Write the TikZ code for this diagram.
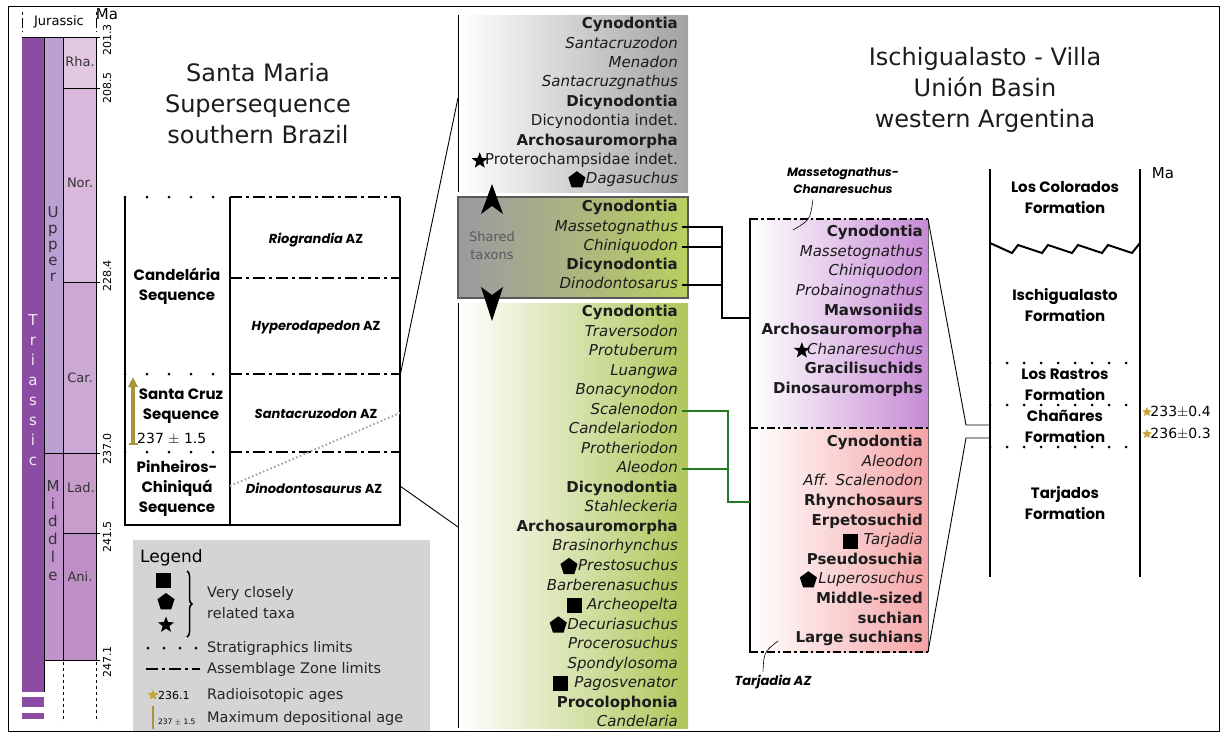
\documentclass[tikz,border=0pt]{standalone}
\usepackage{fontspec}
\setmainfont{DejaVu Sans}
\newfontfamily\geofont{Poppins}
\usetikzlibrary{positioning,shapes.geometric,arrows.meta,decorations.pathreplacing}

\definecolor{triascol}{HTML}{8D4CA3}
\definecolor{uppercol}{HTML}{BBA0D3}
\definecolor{middlecol}{HTML}{C193CC}
\definecolor{rhacol}{HTML}{E3C8E2}
\definecolor{norcol}{HTML}{D8B8DB}
\definecolor{carcol}{HTML}{CCA9D5}
\definecolor{ladcol}{HTML}{C89CCB}
\definecolor{anicol}{HTML}{BE90C5}
\definecolor{topgray}{HTML}{A2A2A5}
\definecolor{sharegray}{HTML}{9B9AA0}
\definecolor{sharegreen}{HTML}{B9CF60}
\definecolor{lowgreen}{HTML}{AEC65A}
\definecolor{purplefill}{HTML}{C68AD5}
\definecolor{redfill}{HTML}{F4A3A5}
\definecolor{legendgray}{HTML}{D4D4D4}
\definecolor{goldcol}{HTML}{A8953A}
\definecolor{stargold}{HTML}{C8A531}
\definecolor{linkgreen}{HTML}{237A23}
\definecolor{inkcol}{HTML}{1C1C1C}

\newcommand\taxfont{\fontsize{15}{18}\selectfont}
\newcommand\geobold{\geofont\bfseries}

\begin{document}
\begin{tikzpicture}[x=1pt,y=-1pt,
    taxon/.style={anchor=east, inner sep=0pt, text height=10.5pt, text depth=3pt, font=\taxfont, text=inkcol},
    azline/.style={line width=2.6pt, dash pattern=on 12pt off 4pt on 3pt off 4pt},
    stratline/.style={line width=3pt, line cap=round, dash pattern=on 0pt off #1},
    stratline/.default=21pt,
    boxline/.style={line width=2.6pt},
    agetick/.style={line width=0.9pt},
    agelabel/.style={rotate=90, font=\fontsize{11}{12}\selectfont, inner sep=0pt},
    stagelabel/.style={font=\fontsize{13}{15}\selectfont, text=black!80},
    letter/.style={font=\fontsize{15}{15}\selectfont, text height=10pt, text depth=3pt, inner sep=0pt},
    seqlabel/.style={font=\geobold\fontsize{15}{20}\selectfont, align=center},
    azlabel/.style={font=\geobold\fontsize{13}{15}\selectfont},
    formlabel/.style={font=\geobold\fontsize{15}{21}\selectfont, align=center},
    pentmark/.style={regular polygon, regular polygon sides=5, fill=black, minimum size=18pt, inner sep=0pt},
    starmark/.style={star, star points=5, star point ratio=2.4, fill=black, minimum size=17pt, inner sep=0pt},
    sqmark/.style={rectangle, fill=black, minimum size=15pt, inner sep=0pt},
    taxlink/.style={line width=2pt, black},
    greenlink/.style={line width=2pt, linkgreen},
    basintitle/.style={font=\fontsize{24}{31}\selectfont, align=center, text=inkcol},
    legendtext/.style={anchor=west, font=\fontsize{14.5}{17}\selectfont, text=black!85, inner sep=0pt}
]
\useasboundingbox (0,0) rectangle (1226,736);

% frame
\draw[line width=0.8pt] (8,6) rectangle (1219,731);

% ---- time scale ----
\fill[triascol] (22,37) rectangle (44,692);
\fill[triascol] (22,697) rectangle (44,707);
\fill[triascol] (22,713) rectangle (44,719);
\fill[uppercol] (44,37) rectangle (63,453);
\fill[middlecol] (44,453) rectangle (63,660);
\fill[rhacol] (63,37) rectangle (96,88);
\fill[norcol] (63,88) rectangle (96,282);
\fill[carcol] (63,282) rectangle (96,453);
\fill[ladcol] (63,453) rectangle (96,533);
\fill[anicol] (63,533) rectangle (96,660);
\draw[agetick] (44,37) -- (44,692) (63,37) -- (63,660) (96,37) -- (96,660);
\draw[agetick] (22,37) -- (100,37);
\draw[agetick] (63,88) -- (100,88);
\draw[agetick] (63,282) -- (100,282);
\draw[agetick] (44,453) -- (100,453);
\draw[agetick] (63,533) -- (100,533);
\draw[agetick] (44,660) -- (100,660);
\draw[agetick, dashed] (63,662) -- (63,722) (96,662) -- (96,722);
\draw[agetick, dash pattern=on 3pt off 3pt on 10pt off 3pt] (22,12) -- (22,32) (96,12) -- (96,32);

\node[font=\fontsize{13}{15}\selectfont] (jura) at (59,22) {Jurassic};
\node[font=\fontsize{15}{17}\selectfont] (maleft) at (107,14) {Ma};
\node[agelabel] at (107,40) {201.3};
\node[agelabel] at (107,88) {208.5};
\node[agelabel] at (107,276) {228.4};
\node[agelabel] at (107,449) {237.0};
\node[agelabel] at (107,537) {241.5};
\node[agelabel] at (107,662) {247.1};

\node[stagelabel] at (80,62) {Rha.};
\node[stagelabel] at (80,183) {Nor.};
\node[stagelabel] at (80,378) {Car.};
\node[stagelabel] at (81,488) {Lad.};
\node[stagelabel] at (80,577) {Ani.};

\foreach \l [count=\i] in {T,r,i,a,s,s,i,c}
  \node[letter, text=white!88!triascol] at (33,{302+20*\i}) {\l};
\foreach \l [count=\i] in {U,p,p,e,r}
  \node[letter, text=black!80] at (53,{198+16*\i}) {\l};
\foreach \l [count=\i] in {M,i,d,d,l,e}
  \node[letter, text=black!80] at (53,{470+17.8*\i}) {\l};

% ---- Santa Maria ----
\node[basintitle] (smtitle) at (258,104) {Santa Maria\\Supersequence\\southern Brazil};

\draw[boxline] (125,197) -- (125,525) -- (400,525) -- (400,197);
\draw[boxline] (230,197) -- (230,525);
\draw[stratline=22pt] (125,197) -- (226,197);
\draw[stratline=22pt] (125,374) -- (226,374);
\draw[stratline=22pt] (125,452) -- (226,452);
\draw[azline] (230,197) -- (400,197);
\draw[azline] (230,278) -- (400,278);
\draw[azline] (230,374) -- (400,374);
\draw[azline] (230,452) -- (400,452);

\node[seqlabel] (candseq) at (177,286) {Candelária\\Sequence};
\node[seqlabel] (scseq) at (181,406) {Santa Cruz\\Sequence};
\node[seqlabel] (pcseq) at (177,488) {Pinheiros-\\Chiniquá\\Sequence};
\node[anchor=west, font=\fontsize{14}{16}\selectfont, inner sep=0pt] (scage) at (137,439) {237 $\pm$ 1.5};
\draw[goldcol, line width=3.5pt, -{Triangle[width=9pt,length=10pt]}] (133,444) -- (133,377);
\draw[goldcol, line width=2pt] (128.5,444) -- (137.5,444);

\node[azlabel] (riog) at (316,240) {\itshape Riograndia\upshape\ AZ};
\node[azlabel] (hyper) at (316,327) {\itshape Hyperodapedon\upshape\ AZ};
\node[azlabel] (santaz) at (316,414) {\itshape Santacruzodon\upshape\ AZ};
\node[azlabel] (dinoaz) at (314,488) {\itshape Dinodontosaurus\upshape\ AZ};

\draw[gray!75, line width=2pt, dash pattern=on 1.5pt off 2.5pt] (230,486) -- (400,413);

% ---- legend ----
\fill[legendgray] (133,540) rectangle (430,731);
\node[anchor=west, font=\fontsize{17}{19}\selectfont, inner sep=0pt] (legtitle) at (140,558) {Legend};
\node[sqmark] (legsq) at (163,580) {};
\node[pentmark] (legpent) at (166,602) {};
\node[starmark] (legstar) at (166,625) {};
\draw[decorate, decoration={brace, amplitude=5pt}, line width=1.5pt] (187,571) -- (187,637);
\node[legendtext] at (207,593) {Very closely};
\node[legendtext] at (207,613) {related taxa};
\draw[stratline=16pt] (148,648) -- (200,648);
\node[legendtext] at (207,648) {Stratigraphics limits};
\draw[azline] (146,669) -- (200,669);
\node[legendtext] at (207,669) {Assemblage Zone limits};
\node[star, star points=5, star point ratio=2.2, fill=stargold, minimum size=11pt, inner sep=0pt] (legage) at (153,695) {};
\node[anchor=west, font=\fontsize{11}{13}\selectfont, inner sep=0pt] at (158,695) {236.1};
\node[legendtext] at (207,695) {Radioisotopic ages};
\draw[goldcol, line width=2pt] (153,706) -- (153,729);
\node[anchor=west, font=\fontsize{7.5}{9}\selectfont, inner sep=0pt] at (158,722) {237 $\pm$ 1.5};
\node[legendtext] at (207,718) {Maximum depositional age};

% ---- middle column ----
\shade[left color=white, right color=topgray] (459,15) rectangle (688,192);
\draw[line width=1pt] (458,15) -- (458,192);
\shade[left color=sharegray, right color=sharegreen] (458,197) rectangle (688,298);
\draw[line width=1.2pt, black!65] (458,197) rectangle (688,298);
\shade[left color=white, right color=lowgreen] (459,303) rectangle (688,728);
\draw[line width=1pt] (458,303) -- (458,728);

\fill (492,184) -- (503,214) -- (492,206) -- (481,214) -- cycle;
\fill (492,321) -- (503,287) -- (492,295) -- (481,287) -- cycle;
\node[font=\fontsize{13}{18}\selectfont, text=black!65, align=center] (shared) at (492,246) {Shared\\taxons};

\foreach \t [count=\i] in {\textbf{Cynodontia}, \textit{Santacruzodon}, \textit{Menadon},
    \textit{Santacruzgnathus}, \textbf{Dicynodontia}, Dicynodontia indet.,
    \textbf{Archosauromorpha}, Proterochampsidae indet., \textit{Dagasuchus}}
  \node[taxon] (t\i) at (678,{25+19.4*(\i-1)}) {\t};
\node[starmark, left=0pt of t8] {};
\node[pentmark, left=1pt of t9] {};

\foreach \t [count=\i] in {\textbf{Cynodontia}, \textit{Massetognathus}, \textit{Chiniquodon},
    \textbf{Dicynodontia}, \textit{Dinodontosarus}}
  \node[taxon] (s\i) at (678,{208+19.3*(\i-1)}) {\t};

\foreach \t [count=\i] in {\textbf{Cynodontia}, \textit{Traversodon}, \textit{Protuberum},
    \textit{Luangwa}, \textit{Bonacynodon}, \textit{Scalenodon}, \textit{Candelariodon},
    \textit{Protheriodon}, \textit{Aleodon}, \textbf{Dicynodontia}, \textit{Stahleckeria},
    \textbf{Archosauromorpha}, \textit{Brasinorhynchus}, \textit{Prestosuchus},
    \textit{Barberenasuchus}, \textit{Archeopelta}, \textit{Decuriasuchus},
    \textit{Procerosuchus}, \textit{Spondylosoma}, \textit{Pagosvenator},
    \textbf{Procolophonia}, \textit{Candelaria}}
  \node[taxon] (g\i) at (678,{313+19.52*(\i-1)}) {\t};
\node[pentmark, left=1pt of g14] {};
\node[sqmark, left=5pt of g16] {};
\node[pentmark, left=1pt of g17] {};
\node[sqmark, left=6pt of g20] {};

% links between Santa Maria and middle column
\coordinate (smtop) at (400,376);
\coordinate (smbot) at (400,486);
\draw[line width=0.9pt] (smtop) -- (458,98);
\draw[line width=0.9pt] (smbot) -- (458,527);

% ---- right boxes ----
\shade[left color=white, right color=purplefill] (751,219) rectangle (928,428);
\shade[left color=white, right color=redfill] (751,428) rectangle (928,652);
\draw[line width=2.3pt, dash pattern=on 8pt off 3pt on 2.5pt off 3pt] (750,219) -- (928,219);
\draw[line width=2.3pt, dash pattern=on 8pt off 3pt on 2.5pt off 3pt] (750,428) -- (928,428);
\draw[line width=2.3pt, dash pattern=on 8pt off 3pt on 2.5pt off 3pt] (750,652) -- (928,652);
\draw[line width=2.4pt] (750,218) -- (750,653);
\draw[line width=0.6pt, black!60] (928,219) -- (928,652);

\foreach \t [count=\i] in {\textbf{Cynodontia}, \textit{Massetognathus}, \textit{Chiniquodon},
    \textit{Probainognathus}, \textbf{Mawsoniids}, \textbf{Archosauromorpha},
    \textit{Chanaresuchus}, \textbf{Gracilisuchids}, \textbf{Dinosauromorphs}}
  \node[taxon] (p\i) at (923,{233+19.6*(\i-1)}) {\t};
\node[starmark, left=0pt of p7] {};

\foreach \t [count=\i] in {\textbf{Cynodontia}, \textit{Aleodon}, \textit{Aff. Scalenodon},
    \textbf{Rhynchosaurs}, \textbf{Erpetosuchid}, \textit{Tarjadia}, \textbf{Pseudosuchia},
    \textit{Luperosuchus}, \textbf{Middle-sized}, \textbf{suchian}, \textbf{Large suchians}}
  \node[taxon] (r\i) at (923,{443+19.6*(\i-1)}) {\t};
\node[sqmark, left=5pt of r6] {};
\node[pentmark, left=2pt of r8] {};

\node[font=\geobold\itshape\fontsize{12}{17}\selectfont, align=center] (mclabel) at (843,181) {Massetognathus-\\Chanaresuchus};
\draw[line width=0.6pt] ([xshift=-30pt,yshift=-2pt]mclabel.south) .. controls (810,220) .. (793,230);
\node[font=\geobold\itshape\fontsize{13}{15}\selectfont] (tazlabel) at (773,682) {Tarjadia AZ};
\draw[line width=0.6pt] ([xshift=-10pt]tazlabel.north) .. controls (764,652) .. (778,641);

% links from middle column to right boxes
\coordinate (sharedjoin) at (722,318);
\coordinate (greenjoin) at (728,502);
\draw[taxlink] ([xshift=4pt]s2.east) -| (sharedjoin) -- (750,318);
\draw[taxlink] ([xshift=4pt]s3.east) -- (s3.east -| sharedjoin);
\draw[taxlink] ([xshift=4pt]s5.east) -- (s5.east -| sharedjoin);
\draw[greenlink] ([xshift=4pt]g6.east) -| (greenjoin) -- (750,502);
\draw[greenlink] ([xshift=4pt]g9.east) -- (g9.east -| greenjoin);

% ---- Ischigualasto - Villa Union ----
\node[basintitle] (ivtitle) at (985,90) {Ischigualasto - Villa\\Unión Basin\\western Argentina};

\draw[line width=2pt] (990,169) -- (990,577);
\draw[line width=2pt] (1140,169) -- (1140,577);
\draw[line width=2pt] (990,243) -- (1012,253) -- (1018,245) -- (1042,253) -- (1048,245)
  -- (1072,253) -- (1078,245) -- (1102,253) -- (1108,245) -- (1132,253) -- (1140,243);
\draw[stratline=17pt] (990,363) -- (1140,363);
\draw[stratline=17pt] (990,405) -- (1140,405);
\draw[stratline=17pt] (990,447) -- (1140,447);

\node[formlabel] (colorados) at (1065,198) {Los Colorados\\Formation};
\node[formlabel] (ischi) at (1065,305) {Ischigualasto\\Formation};
\node[formlabel] (rastros) at (1065,385) {Los Rastros\\Formation};
\node[formlabel] (chanares) at (1065,426) {Chañares\\Formation};
\node[formlabel] (tarjados) at (1065,503) {Tarjados\\Formation};
\node[font=\fontsize{15}{17}\selectfont] (maright) at (1163,173) {Ma};

\node[star, star points=5, star point ratio=2.2, fill=stargold, minimum size=10pt, inner sep=0pt] (age1) at (1147,412) {};
\node[anchor=west, font=\fontsize{14}{16}\selectfont, inner sep=0pt] at (age1.east) {233$\pm$0.4};
\node[star, star points=5, star point ratio=2.2, fill=stargold, minimum size=10pt, inner sep=0pt] (age2) at (1147,434) {};
\node[anchor=west, font=\fontsize{14}{16}\selectfont, inner sep=0pt] at (age2.east) {236$\pm$0.3};

\draw[line width=0.9pt] (928,219) -- (966,425) -- (990,425);
\draw[line width=0.9pt] (928,652) -- (966,438) -- (990,438);

\end{tikzpicture}
\end{document}
